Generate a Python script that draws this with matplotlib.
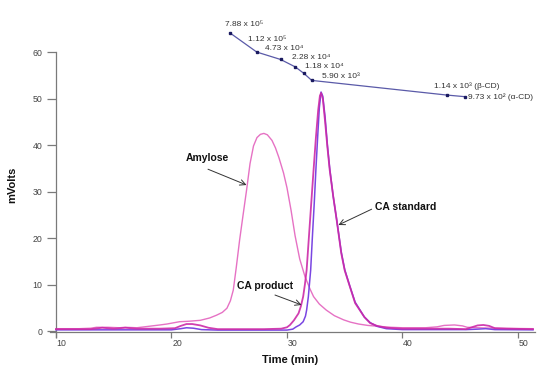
import matplotlib
matplotlib.use("Agg")
import matplotlib.pyplot as plt
import matplotlib.transforms as mtransforms

plt.rcParams['font.family'] = ['Liberation Sans', 'DejaVu Sans']

# ---- data ----
amylose_x = [10, 12, 13, 13.5, 14.5, 15.5, 16, 17, 18, 19, 19.6, 20.7, 21.5, 22.5, 23.3, 23.9,
             24.4, 24.8, 25.1, 25.35, 25.6, 25.9, 26.2, 26.5, 26.8, 27.1, 27.4, 27.7, 28.0, 28.3,
             28.7, 29.0, 29.3, 29.7, 30.0, 30.35, 30.7, 31.1, 31.56, 32.0, 32.3, 32.8, 33.4,
             34.1, 34.9, 35.5, 36.2, 37.0, 38, 39, 40, 42, 43, 43.6, 44.5, 45.2, 45.6, 46.5, 48, 51.3]
amylose_y = [0.5, 0.5, 0.6, 0.8, 0.8, 0.7, 0.8, 0.7, 1.0, 1.3, 1.5, 2.0, 2.1, 2.3, 2.8, 3.4,
             4.0, 4.9, 6.5, 8.8, 13.5, 19.6, 25.0, 30.3, 36.0, 39.8, 41.6, 42.3, 42.5, 42.2,
             41.0, 39.4, 37.3, 34.0, 30.8, 26.0, 20.5, 15.5, 11.7, 9.0, 7.4, 5.8, 4.5,
             3.3, 2.4, 1.9, 1.5, 1.2, 1.0, 0.8, 0.7, 0.7, 0.9, 1.2, 1.3, 1.1, 0.8, 0.7, 0.6, 0.5]

product_x = [10, 13, 14, 15, 16, 17, 19, 20.3, 20.8, 21.3, 21.8, 22.5, 23.2, 24, 26, 28, 29.5,
             30.0, 30.26, 30.6, 31.0, 31.2, 31.4, 31.55, 31.7, 31.9, 32.1, 32.3, 32.5, 32.7,
             32.85, 32.95, 33.1, 33.3, 33.5, 33.7, 34.0, 34.3, 34.7, 35.0, 35.45, 35.9, 36.3,
             36.7, 37.2, 37.8, 38.6, 40, 44, 45.5, 46.0, 46.5, 47.0, 47.5, 48.0, 49, 51.3]
product_y = [0.4, 0.4, 0.7, 0.5, 0.7, 0.5, 0.5, 0.6, 1.1, 1.5, 1.5, 1.2, 0.7, 0.4, 0.4, 0.4, 0.5,
             0.8, 1.3, 2.3, 3.8, 5.3, 7.4, 10.0, 13.1, 20.3, 27.5, 34.6, 41.5, 47.5,
             50.6, 51.2, 50.0, 45.0, 39.5, 34.6, 29.0, 23.9, 16.7, 13.0, 9.5, 6.0, 4.5,
             3.0, 1.7, 1.1, 0.7, 0.5, 0.5, 0.4, 0.8, 1.2, 1.3, 1.1, 0.6, 0.5, 0.4]

standard_x = [10, 20, 20.8, 21.3, 21.9, 22.6, 24, 30.0, 30.5, 30.8, 31.1, 31.4, 31.6, 31.7,
              31.85, 32.05, 32.2, 32.36, 32.5, 32.65, 32.8, 32.95, 33.1, 33.3, 33.5, 33.7,
              34.0, 34.3, 34.7, 35.0, 35.45, 35.9, 36.3, 36.7, 37.2, 37.8, 38.6, 40, 44, 45.5,
              46.5, 47.2, 48, 51.3]
standard_y = [0.25, 0.25, 0.5, 0.7, 0.6, 0.3, 0.2, 0.2, 0.4, 0.9, 1.3, 2.0, 3.2, 4.5,
              7.4, 13.1, 20.3, 27.5, 34.6, 41.5, 48.0, 51.4, 50.5, 46.0, 40.0, 35.0,
              29.0, 24.0, 17.0, 13.2, 9.6, 6.2, 4.6, 3.0, 1.8, 1.0, 0.5, 0.3, 0.3, 0.3,
              0.4, 0.5, 0.3, 0.25]

calib_x = [25.07, 27.38, 29.45, 30.72, 31.47, 32.14, 43.83, 45.41]
calib_y = [64.1, 60.0, 58.4, 56.8, 55.4, 53.9, 50.75, 50.4]
calib_labels = ['7.88 x 10⁵', '1.12 x 10⁵', '4.73 x 10⁴', '2.28 x 10⁴',
                '1.18 x 10⁴', '5.90 x 10³', '1.14 x 10³ (β-CD)', '9.73 x 10² (α-CD)']
calib_label_pos = [(24.6, 66.0), (26.6, 62.7), (28.1, 60.75), (30.4, 58.8),
                   (31.6, 56.8), (33.0, 54.7), (42.7, 52.7), (45.7, 50.4)]

xticks = [10, 20, 30, 40, 50]
yticks = [0, 10, 20, 30, 40, 50, 60]

# ---- figure ----
fig = plt.figure(figsize=(5.5, 3.75), dpi=100)
ax = fig.add_axes([0.0913, 0.1136, 0.882, 0.822])
ax.set_xlim(9.5, 51.5)
ax.set_ylim(-0.3, 66)

ax.plot(amylose_x, amylose_y, color='#e672c4', lw=1.0, zorder=2)
ax.plot(standard_x, standard_y, color='#7a46e2', lw=1.1, zorder=3)
ax.plot(product_x, product_y, color='#cc2aa8', lw=1.3, zorder=3, alpha=0.9)

ax.plot(calib_x, calib_y, color='#5a5aa8', lw=0.9, zorder=4)
ax.plot(calib_x, calib_y, 's', color='#1a1a60', ms=2.0, zorder=5)
for lab, (lx, ly) in zip(calib_labels, calib_label_pos):
    ax.text(lx, ly, lab, fontsize=6.0, color='#333333', ha='left', va='center')

# annotations
arrowprops = dict(arrowstyle='->', color='#333333', lw=0.7, shrinkA=0, shrinkB=0)
ax.annotate('', xy=(26.5, 31.4), xytext=(23.16, 34.8), arrowprops=arrowprops)
ax.text(23.1, 37.2, 'Amylose', fontsize=7.5, fontweight='bold', ha='center', va='center', color='#111111')
ax.annotate('', xy=(31.27, 5.6), xytext=(28.96, 7.74), arrowprops=arrowprops)
ax.text(28.07, 9.7, 'CA product', fontsize=7.5, fontweight='bold', ha='center', va='center', color='#111111')
ax.annotate('', xy=(34.45, 22.8), xytext=(37.33, 26.2), arrowprops=arrowprops)
ax.text(40.26, 26.7, 'CA standard', fontsize=7.5, fontweight='bold', ha='center', va='center', color='#111111')

# spines
for s in ['top', 'right']:
    ax.spines[s].set_visible(False)
ax.spines['left'].set_position(('data', 10))
ax.spines['left'].set_bounds(-1.3, 60)
ax.spines['bottom'].set_position(('data', -0.3))
for s in ['left', 'bottom']:
    ax.spines[s].set_color('#7a7a7a')
    ax.spines[s].set_linewidth(0.9)

ax.set_yticks(yticks)
ax.set_xticks(xticks)
ax.tick_params(axis='y', direction='out', length=6.5, width=0.9, color='#7a7a7a',
               labelsize=6.3, labelcolor='#444444', pad=3.5)
ax.tick_params(axis='x', direction='out', length=4.5, width=0.9, color='#7a7a7a',
               labelsize=6.3, labelcolor='#444444', pad=0.5)
offset = mtransforms.ScaledTranslation(0.5 / 72, 0, fig.dpi_scale_trans)
for lbl in ax.get_xticklabels():
    lbl.set_horizontalalignment('left')
    lbl.set_transform(lbl.get_transform() + offset)

fig.text(12 / 550, 1 - 185 / 375, 'mVolts', rotation=90, fontsize=8, fontweight='bold',
         ha='center', va='center', color='#111111')
fig.text(290 / 550, 1 - 360 / 375, 'Time (min)', fontsize=8, fontweight='bold',
         ha='center', va='center', color='#111111')

fig.savefig('out.png', dpi=100)
